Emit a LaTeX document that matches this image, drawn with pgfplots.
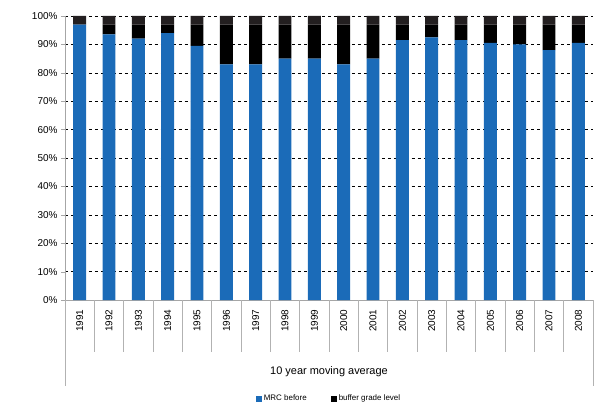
\documentclass[border=0pt]{standalone}
\usepackage{pgfplots}
\pgfplotsset{compat=1.18}
\usepackage{fontspec}
\setmainfont{Liberation Sans}
\definecolor{mblue}{HTML}{1B6BB8}
\definecolor{mgrey}{HTML}{231F20}
\begin{document}
\begin{tikzpicture}[x=1bp,y=1bp]
\useasboundingbox (-65bp,-112bp) rectangle (530bp,300bp);
\begin{axis}[
  at={(0,0)}, anchor=south west,
  scale only axis, width=528bp, height=284bp,
  ybar stacked, bar width=0.44,
  xmin=-0.5, xmax=17.5, ymin=0, ymax=100,
  xtick={0,...,17},
  xticklabels={1991,1992,1993,1994,1995,1996,1997,1998,1999,2000,2001,2002,2003,2004,2005,2006,2007,2008},
  xticklabel style={rotate=90, anchor=east, font=\fontsize{10}{11}\selectfont, xshift=-2bp},
  major x tick style={draw=none},
  ytick={0,10,...,100},
  yticklabel={\pgfmathprintnumber{\tick}\%},
  yticklabel style={font=\fontsize{10}{11}\selectfont},
  /pgf/number format/assume math mode=true,
  ymajorgrids, grid style={black, dashed, thin},
  axis x line*=bottom, axis y line*=left,
  axis line style={gray!70},
  ytick style={gray!70}, tick align=outside, major tick length=4bp,
  legend style={at={(0.5,0)}, yshift=-92bp, anchor=north, draw=none, legend columns=-1, font=\fontsize{8}{9}\selectfont, inner sep=1bp, /tikz/every even column/.append style={column sep=22bp}},
  legend image code/.code={\fill[#1] (0bp,-3bp) rectangle (6bp,3bp);},
  clip=false,
]
\addplot[fill=mblue, draw=none] coordinates {(0,97) (1,93.5) (2,92) (3,94) (4,89.5) (5,83) (6,83) (7,85) (8,85) (9,83) (10,85) (11,91.5) (12,92.5) (13,91.5) (14,90.5) (15,90) (16,88) (17,90.5)};
\addplot[fill=black, draw=none] coordinates {(0,0) (1,3.5) (2,5) (3,3) (4,7.5) (5,14) (6,14) (7,12) (8,12) (9,14) (10,12) (11,5.5) (12,4.5) (13,5.5) (14,6.5) (15,7) (16,9) (17,6.5)};
\addplot[fill=mgrey, draw=none, forget plot] coordinates {(0,3) (1,3) (2,3) (3,3) (4,3) (5,3) (6,3) (7,3) (8,3) (9,3) (10,3) (11,3) (12,3) (13,3) (14,3) (15,3) (16,3) (17,3)};
\legend{MRC before, buffer grade level}
\foreach \k in {-0.5,0.5,...,17.5} {
  \edef\tmp{\noexpand\draw[gray!60] (axis cs:\k,0) -- ([yshift=-52bp]axis cs:\k,0);}\tmp
}
\draw[gray!60] ([yshift=-52bp]axis cs:-0.5,0) -- ([yshift=-86bp]axis cs:-0.5,0);
\draw[gray!60] ([yshift=-52bp]axis cs:17.5,0) -- ([yshift=-86bp]axis cs:17.5,0);
\node[font=\fontsize{11}{12}\selectfont] at ([yshift=-72bp]axis cs:8.5,0) {10 year moving average};
\end{axis}
\end{tikzpicture}
\end{document}
